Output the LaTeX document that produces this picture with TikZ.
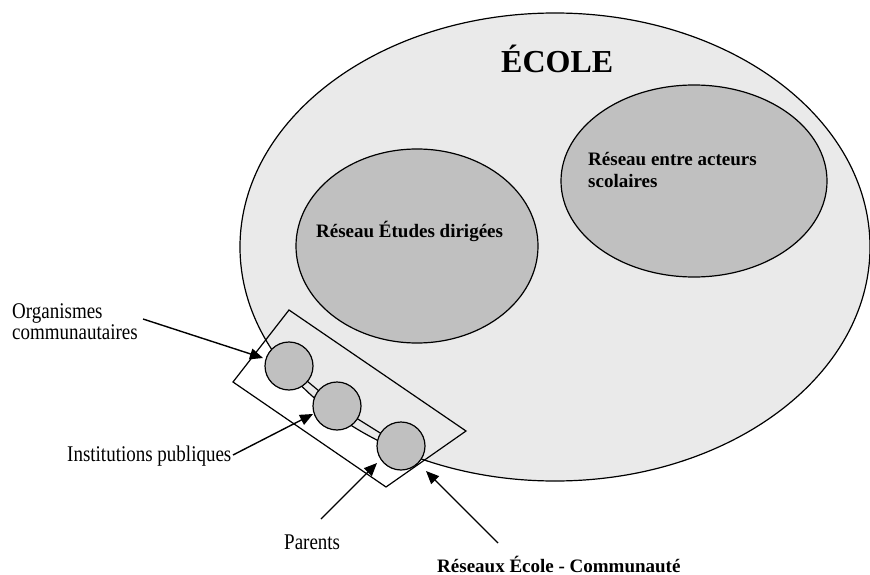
\documentclass[tikz,border=0pt]{standalone}
\usepackage{fontspec}
\setmainfont{Liberation Serif}
\usetikzlibrary{shapes.geometric,arrows.meta}
\definecolor{schoolfill}{HTML}{EAEAEA}
\definecolor{netfill}{HTML}{C0C0C0}
\newcommand{\tall}[1]{\scalebox{1}[1.18]{#1}}
\tikzset{
  outline/.style={draw=black, line width=1.2pt},
  bigoval/.style={outline, ellipse, inner sep=0pt, fill=schoolfill},
  netoval/.style={outline, ellipse, inner sep=0pt, fill=netfill},
  member/.style={outline, circle, inner sep=0pt, minimum size=48pt, fill=netfill},
  label/.style={inner sep=0pt, font=\fontsize{19}{21}\selectfont},
  boldlabel/.style={inner sep=0pt, font=\fontsize{19}{22}\selectfont\bfseries},
  pointer/.style={line width=1.4pt, -{Triangle[length=13pt,width=11pt]}},
  link/.style={line width=1.2pt}
}
\begin{document}
\begin{tikzpicture}[x=1pt,y=-1pt]
\useasboundingbox (0,0) rectangle (870,575);
\fill[white] (0,0) rectangle (870,575);

% school and its inner networks
\node[bigoval, minimum width=630pt, minimum height=468pt] (ecole) at (555,247) {};
\node[netoval, minimum width=242pt, minimum height=194pt] (etudes) at (417,246) {};
\node[netoval, minimum width=266pt, minimum height=192pt] (acteurs) at (694,181) {};

\node[anchor=base west, inner sep=0pt, font=\fontsize{32}{36}\selectfont\bfseries] (titre) at (501,73) {ÉCOLE};
\node[boldlabel, anchor=base west] (tEtudes) at (316,237) {Réseau Études dirigées};
\node[boldlabel, anchor=base west, align=left] (tActeurs) at (588,187) {Réseau entre acteurs\\scolaires};

% school-community frame
\coordinate (fTop) at (289,310);
\coordinate (fRight) at (466,431);
\coordinate (fBottom) at (386,487);
\coordinate (fLeft) at (233,382);
\draw[link] (fTop) -- (fRight) -- (fBottom) -- (fLeft) -- cycle;

% community members, joined in a chain
\coordinate (cOrg) at (289,366);
\coordinate (cInst) at (337,406);
\coordinate (cPar) at (401,446);
\draw[link] (cOrg) -- (cInst) -- (cPar);
\node[member] (org) at (cOrg) {};
\node[member] (inst) at (cInst) {};
\node[member] (par) at (cPar) {};

% labels
\node[label, anchor=base west, align=left] (lOrg) at (12,339) {\tall{Organismes}\\\tall{communautaires}};
\node[label, anchor=base west] (lInst) at (67,461) {\tall{Institutions publiques}};
\node[label, anchor=base west] (lPar) at (284,549) {\tall{Parents}};
\node[boldlabel, anchor=base west] (lRes) at (437,572) {Réseaux École - Communauté};

% pointers
\coordinate (aOrgS) at (143,319);
\coordinate (aOrgE) at (263,358);
\coordinate (aInstS) at (233,455);
\coordinate (aInstE) at (313,414);
\coordinate (aParS) at (321,519);
\coordinate (aParE) at (377,463);
\coordinate (aResS) at (498,543);
\coordinate (aResE) at (426,471);
\draw[pointer] (aOrgS) -- (aOrgE);
\draw[pointer] (aInstS) -- (aInstE);
\draw[pointer] (aParS) -- (aParE);
\draw[pointer] (aResS) -- (aResE);
\end{tikzpicture}
\end{document}
